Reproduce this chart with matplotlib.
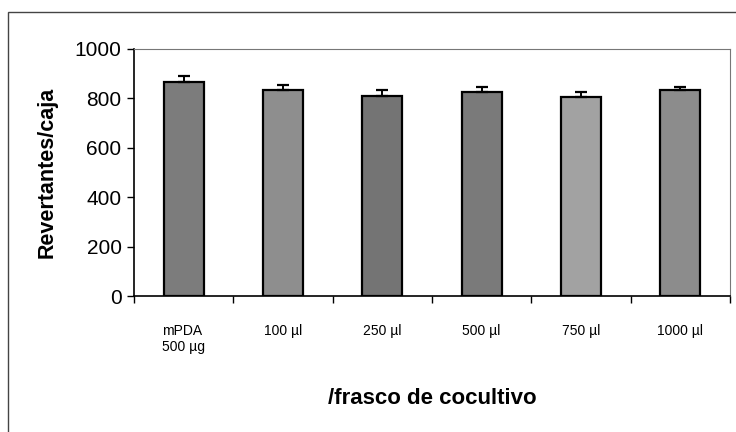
import matplotlib.pyplot as plt
from matplotlib.patches import Rectangle

plt.rcParams['font.family'] = ['Liberation Sans', 'DejaVu Sans']

# Revertantes por caja para cada tratamiento
tratamientos = ["mPDA\n500 µg", "100 µl", "250 µl", "500 µl", "750 µl", "1000 µl"]
revertantes = [866, 834, 810, 826, 805, 834]
error = [24, 20, 22, 20, 21, 12]
tonos = ["#7c7c7c", "#8e8e8e", "#747474", "#7a7a7a", "#a2a2a2", "#8c8c8c"]

fig = plt.figure(figsize=(7.36, 4.32), dpi=100)

# marco exterior del grafico
fig.patches.append(Rectangle((8 / 736, -0.05), 1.1, 1 - 12 / 432 + 0.05,
                             transform=fig.transFigure, fill=False,
                             edgecolor="#444444", linewidth=1.0))

ax = fig.add_axes([134 / 736, 1 - 296 / 432, 596 / 736, 247 / 432])

x = list(range(len(tratamientos)))
ax.bar(x, revertantes, width=0.4, color=tonos, edgecolor="black", linewidth=1.6, zorder=2)
ax.errorbar(x, revertantes, yerr=[[0] * len(error), error], fmt="none",
            ecolor="black", elinewidth=1.4, capsize=4, capthick=1.6, zorder=3)

ax.set_xlim(-0.5, len(tratamientos) - 0.5)
ax.set_ylim(0, 1000)
ax.set_yticks([0, 200, 400, 600, 800, 1000])
ax.tick_params(axis="y", labelsize=15, length=5, width=1, pad=4)

ax.set_xticks(x)
ax.set_xticklabels(tratamientos, fontsize=10)
ax.set_xticks([i - 0.5 for i in range(len(tratamientos) + 1)], minor=True)
ax.tick_params(axis="x", which="major", length=0, pad=20)
ax.tick_params(axis="x", which="minor", length=5, width=1)

# etiquetas centradas bajo la barra, con el texto de dos lineas alineado a la izquierda
for lbl in ax.get_xticklabels():
    lbl.set_horizontalalignment("center")
    lbl.set_multialignment("left")

ax.spines["left"].set_linewidth(1.2)
ax.spines["bottom"].set_linewidth(1.2)
ax.spines["top"].set_color("#777777")
ax.spines["right"].set_color("#777777")

ax.set_ylabel("Revertantes/caja", fontsize=15.5, fontweight="bold", labelpad=12)
fig.text(432 / 736, 1 - 398 / 432, "/frasco de cocultivo", fontsize=16,
         fontweight="bold", ha="center", va="center")

fig.savefig("out.png", dpi=100)
